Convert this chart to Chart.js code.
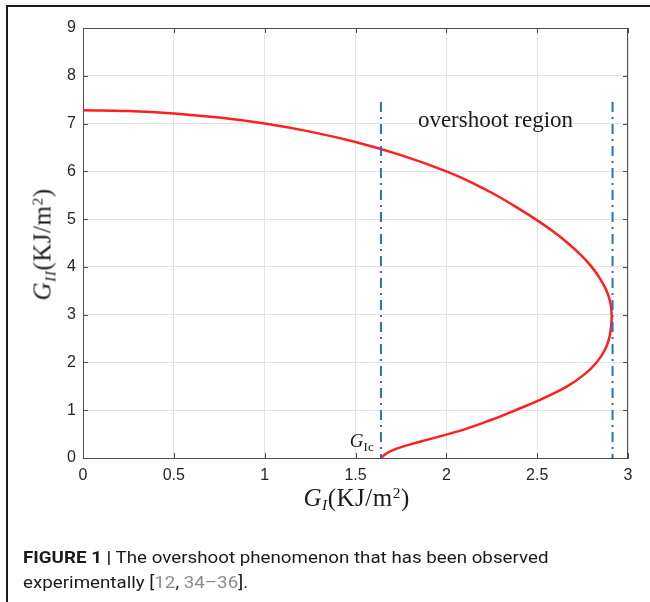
<!DOCTYPE html>
<html>
<head>
<meta charset="utf-8">
<script src="https://cdn.jsdelivr.net/npm/chart.js@4/dist/chart.umd.min.js"></script>
<style>
html,body{margin:0;padding:0;background:#fff;}
#wrap{position:relative;width:650px;height:602px;overflow:hidden;background:#fff;}
#frameTop{position:absolute;left:6px;top:5px;width:650px;height:2px;background:#1c1c1c;}
#frameLeft{position:absolute;left:6px;top:5px;width:2px;height:600px;background:#1c1c1c;}
canvas{position:absolute;left:0;top:0;}
.ann{position:absolute;font-family:"Liberation Serif","Times New Roman",serif;color:#1a1a1a;white-space:nowrap;line-height:1;}
.sub{font-size:0.62em;position:relative;top:0.3em;}
.sup{font-size:0.62em;position:relative;top:-0.5em;}
#caption{position:absolute;left:23px;top:545px;font-family:Roboto,"Liberation Sans",sans-serif;font-size:17px;line-height:25px;color:#1a1a1a;white-space:nowrap;transform-origin:0 0;}
#caption b{font-weight:700;}
#caption .ref{color:#8c8c8c;}
</style>
</head>
<body>
<div id="wrap">
  <canvas id="c" width="650" height="602"></canvas>
  <div id="frameTop"></div>
  <div id="frameLeft"></div>
  <div class="ann" id="xTitle" style="font-size:25px;letter-spacing:0.5px;"><i>G</i><span class="sub"><i>I</i></span>(KJ/m<span class="sup">2</span>)</div>
  <div class="ann" id="yTitle" style="font-size:25px;letter-spacing:0.5px;"><i>G</i><span class="sub"><i>II</i></span>(KJ/m<span class="sup">2</span>)</div>
  <div class="ann" id="regionLabel" style="font-size:23px;">overshoot region</div>
  <div class="ann" id="gicLabel" style="font-size:19px;"><i>G</i><span class="sub" style="font-size:0.68em;">Ic</span></div>
  <div id="caption"><div id="cap1"><b>FIGURE 1 |</b> The overshoot phenomenon that has been observed</div><div>experimentally [<span class="ref">12</span>, <span class="ref">34–36</span>].</div></div>
</div>
<script>
// ---- data ----
// upper branch (G_II falling from 7.28 to 3) then lower branch (back down to G_Ic at G_II = 0)
const curveX = [0, 0.25, 0.5, 0.75, 1.0, 1.25, 1.5, 1.75, 2.0, 2.148, 2.275, 2.385, 2.49, 2.585, 2.668, 2.74, 2.8, 2.847, 2.882, 2.903, 2.91,
                2.907, 2.896, 2.871, 2.827, 2.76, 2.665, 2.506, 2.38, 2.248, 2.1, 1.913, 1.815, 1.73, 1.672, 1.64];
const curveY = [7.28, 7.263, 7.213, 7.126, 7.0, 6.831, 6.613, 6.338, 6.0, 5.75, 5.5, 5.25, 5.0, 4.75, 4.5, 4.25, 4.0, 3.75, 3.5, 3.25, 3.0,
                2.75, 2.5, 2.25, 2.0, 1.75, 1.5, 1.2, 1.0, 0.8, 0.6, 0.4, 0.3, 0.2, 0.1, 0];
const boundaryX = [1.64, 2.915];         // G_Ic and maximum G_I (dash-dot lines)
const boundaryY = [7.45, 0];             // vertical extent of the dash-dot lines (drawn top to bottom)
const xTicks = [0, 0.5, 1, 1.5, 2, 2.5, 3];
const yTicks = [0, 1, 2, 3, 4, 5, 6, 7, 8, 9];

const curvePts = curveX.map((x, i) => ({x: x, y: curveY[i]}));
const vLine = (x) => boundaryY.map(y => ({x: x, y: y}));

const AREA = {left: 83, top: 28, right: 628, bottom: 458};
const axisColor = '#4d4d4d';

// make sure the spline control points are computed for every line
const smoothPlugin = {
  id: 'smoothLines',
  beforeDatasetsDraw(chart) {
    chart.getSortedVisibleDatasetMetas().forEach(meta => {
      if (meta.dataset && meta.dataset.updateControlPoints) {
        meta.dataset.updateControlPoints(chart.chartArea, 'x');
      }
    });
  }
};

const boxPlugin = {
  id: 'boxTicks',
  afterDraw(chart) {
    const {ctx, chartArea: a, scales} = chart;
    ctx.save();
    ctx.strokeStyle = axisColor;
    ctx.lineWidth = 1;
    ctx.beginPath();
    ctx.moveTo(a.left, a.top + 0.5); ctx.lineTo(a.right, a.top + 0.5);
    ctx.moveTo(a.right - 0.5, a.top); ctx.lineTo(a.right - 0.5, a.bottom);
    const L = 5;
    xTicks.forEach(v => {
      const px = Math.round(scales.x.getPixelForValue(v)) + 0.5;
      ctx.moveTo(px, a.bottom); ctx.lineTo(px, a.bottom - L);
      ctx.moveTo(px, a.top); ctx.lineTo(px, a.top + L);
    });
    yTicks.forEach(v => {
      const py = Math.round(scales.y.getPixelForValue(v)) + 0.5;
      ctx.moveTo(a.left, py); ctx.lineTo(a.left + L, py);
      ctx.moveTo(a.right, py); ctx.lineTo(a.right - L, py);
    });
    ctx.stroke();
    ctx.restore();
  }
};

const tickFont = {family: '"Liberation Sans", Arial, sans-serif', size: 16};

const chart = new Chart(document.getElementById('c'), {
  type: 'line',
  data: {
    datasets: [
      {data: vLine(boundaryX[0]), borderColor: '#2e6fba', borderWidth: 2, borderDash: [10, 5, 2, 5], pointRadius: 0, tension: 0},
      {data: vLine(boundaryX[1]), borderColor: '#2e6fba', borderWidth: 2, borderDash: [10, 5, 2, 5], pointRadius: 0, tension: 0},
      {data: curvePts, borderColor: '#ff1f1f', borderWidth: 2.5, pointRadius: 0, tension: 0.4, fill: false}
    ]
  },
  options: {
    responsive: false,
    animation: false,
    devicePixelRatio: 1,
    elements: {line: {capBezierPoints: false}},
    layout: {padding: {left: 0, top: AREA.top, right: 650 - AREA.right, bottom: 602 - AREA.bottom - 40}},
    plugins: {legend: {display: false}, tooltip: {enabled: false}},
    scales: {
      x: {
        type: 'linear', min: 0, max: 3,
        afterFit(s) { s.height = 40; },
        afterBuildTicks(s) { s.ticks = xTicks.map(v => ({value: v})); },
        ticks: {color: '#262626', font: tickFont, padding: 8, maxRotation: 0, callback: v => String(v)},
        grid: {color: '#e4e4e4', drawTicks: false},
        border: {display: true, color: axisColor, width: 1}
      },
      y: {
        type: 'linear', min: 0, max: 9,
        afterFit(s) { s.width = AREA.left; },
        afterBuildTicks(s) { s.ticks = yTicks.map(v => ({value: v})); },
        ticks: {color: '#262626', font: tickFont, padding: 7, callback: v => String(v)},
        grid: {color: '#e4e4e4', drawTicks: false},
        border: {display: true, color: axisColor, width: 1}
      }
    }
  },
  plugins: [smoothPlugin, boxPlugin]
});

// ---- place the HTML text labels using the chart's scales ----
function place(id, cx, cy, rotate) {
  const el = document.getElementById(id);
  const w = el.offsetWidth, h = el.offsetHeight;
  el.style.left = (cx - w / 2) + 'px';
  el.style.top = (cy - h / 2) + 'px';
  if (rotate) el.style.transform = 'rotate(-90deg)';
}
const sx = chart.scales.x, sy = chart.scales.y;
place('xTitle', (sx.left + sx.right) / 2 + 1, AREA.bottom + 39, false);
place('yTitle', 42, (sy.top + sy.bottom) / 2 + 1, true);
place('regionLabel', sx.getPixelForValue(2.27), sy.getPixelForValue(7.08), false);
place('gicLabel', sx.getPixelForValue(1.535), sy.getPixelForValue(0.37), false);

// fit caption first line to the width seen in the reference
const cap = document.getElementById('caption');
const w1 = document.getElementById('cap1').offsetWidth;
cap.style.transform = 'scaleX(' + (525 / w1) + ')';
</script>
</body>
</html>
